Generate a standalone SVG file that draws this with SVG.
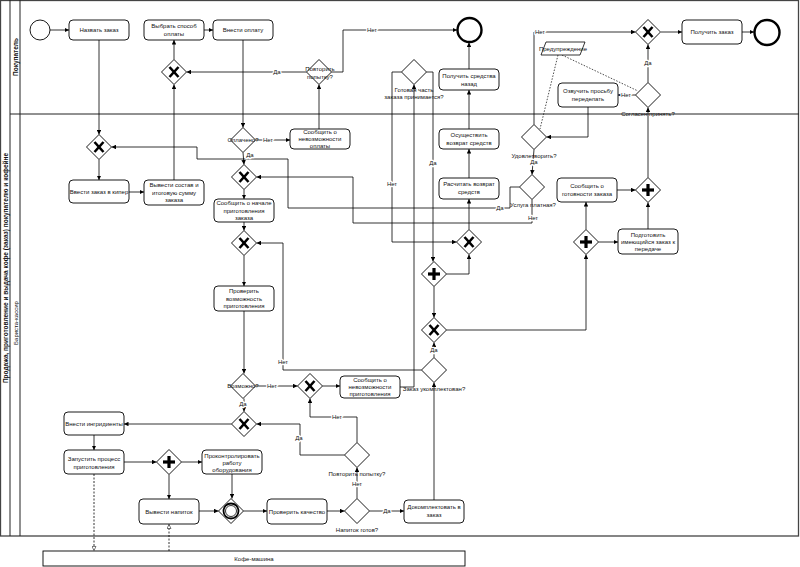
<svg xmlns="http://www.w3.org/2000/svg" width="800" height="567" viewBox="0 0 800 567">
<style>
.t{fill:#fff;stroke:#000;stroke-width:0.9}
.g{fill:#fff;stroke:#000;stroke-width:0.9}
.x{stroke:#000;stroke-width:2.6;fill:none}
.p{stroke:#000;stroke-width:3.2;fill:none}
.tx{font-family:"Liberation Sans",Arial,sans-serif;font-size:6px;fill:#111;text-anchor:middle}
.el{font-family:"Liberation Sans",Arial,sans-serif;font-size:6px;fill:#111;text-anchor:middle;stroke:#fff;stroke-width:2.5px;paint-order:stroke;stroke-linejoin:round}
.e{fill:none;stroke:#000;stroke-width:0.8;marker-end:url(#a)}
.m{fill:none;stroke:#000;stroke-width:0.8;stroke-dasharray:2,1.5;marker-end:url(#o)}
.d{fill:none;stroke:#000;stroke-width:0.7;stroke-dasharray:1.5,1.5}
.ln{stroke:#222;stroke-width:1;fill:none}
</style>
<defs>
<marker id="a" viewBox="0 0 10 10" refX="10" refY="5" markerUnits="userSpaceOnUse" markerWidth="4.5" markerHeight="4.5" orient="auto"><path d="M0,0 L10,5 L0,10 z" fill="#000"/></marker>
<marker id="o" viewBox="0 0 10 10" refX="10" refY="5" markerUnits="userSpaceOnUse" markerWidth="5" markerHeight="5" orient="auto"><path d="M1,1 L9,5 L1,9 z" fill="#fff" stroke="#000" stroke-width="1"/></marker>
<g id="xg"><line class="x" x1="-4.5" y1="-5" x2="4.5" y2="5"/><line class="x" x1="4.5" y1="-5" x2="-4.5" y2="5"/></g>
<g id="pg"><line class="p" x1="0" y1="-6" x2="0" y2="6"/><line class="p" x1="-6" y1="0" x2="6" y2="0"/></g>
<polygon id="dm" points="0,-12.5 12.5,0 0,12.5 -12.5,0"/>
</defs>
<rect width="800" height="567" fill="#fff"/>
<g id="pool">
<rect x="0.5" y="0.5" width="798" height="535.5" fill="none" stroke="#444" stroke-width="1.3"/>
<line class="ln" x1="10" y1="0" x2="10" y2="536"/>
<line class="ln" x1="20" y1="0" x2="20" y2="536"/>
<line class="ln" x1="10" y1="114" x2="799" y2="114"/>
<text class="tx" transform="translate(7.5,268) rotate(-90)" style="font-weight:bold;font-size:6.5px">Продажа, приготовление и выдача кофе (заказ) покупателю и кофейне</text>
<text class="tx" transform="translate(17.5,57) rotate(-90)" style="font-weight:bold;font-size:6.5px">Покупатель</text>
<text class="tx" transform="translate(17.5,323) rotate(-90)">Бариста-кассир</text>
</g>
<g id="connectors">
<path class="e" d="M50,30 L69,30"/>
<path class="e" d="M99,40 L99,134.5"/>
<path class="e" d="M99,159.5 L99,180"/>
<path class="e" d="M129,192 L144,192"/>
<path class="e" d="M174,181 L174,84.5"/>
<path class="e" d="M174,59.5 L174,40"/>
<path class="e" d="M204,30 L213,30"/>
<path class="e" d="M243,40 L243,127.5"/>
<path class="e" d="M255.5,140 L290,140"/>
<path class="e" d="M319,129 L319,84.5"/>
<path class="e" d="M306.5,72 L186.5,72"/>
<path class="e" d="M331.5,72 L343,72 L343,30 L457,30"/>
<path class="e" d="M243,152.5 L244,164.5"/>
<path class="e" d="M244,189.5 L244,199"/>
<path class="e" d="M244,222 L244,230.5"/>
<path class="e" d="M244,255.5 L244,286"/>
<path class="e" d="M244,311 L244,373.5"/>
<path class="e" d="M255.5,386 L297.5,386"/>
<path class="e" d="M322.5,386 L340,386"/>
<path class="e" d="M400,387 L414,387 L414,84.5"/>
<path class="e" d="M401.5,72 L392,72 L392,242 L456.5,242"/>
<path class="e" d="M426.5,72 L433,72 L433,261.5"/>
<path class="e" d="M446.5,274 L469,274 L469,254.5"/>
<path class="e" d="M469,229.5 L469,199"/>
<path class="e" d="M469,178 L469,149"/>
<path class="e" d="M469,129 L469,90"/>
<path class="e" d="M469,69 L469,42.5"/>
<path class="e" d="M434,286.5 L434,317.5"/>
<path class="e" d="M446.5,330 L586,330 L586,254.5"/>
<path class="e" d="M586,229.5 L586,202"/>
<path class="e" d="M598.5,242 L618,242"/>
<path class="e" d="M617,190 L635.5,190"/>
<path class="e" d="M648,229 L648,202.5"/>
<path class="e" d="M648,177.5 L648,107.5"/>
<path class="e" d="M648,82.5 L648,44.5"/>
<path class="e" d="M635.5,95 L618,95"/>
<path class="e" d="M588,107 L588,137 L546.5,137"/>
<path class="e" d="M534,124.5 L534,32 L635.5,32"/>
<path class="e" d="M661,32 L682,32"/>
<path class="e" d="M742,32 L754,32"/>
<path class="e" d="M534,149.5 L532,174.5"/>
<path class="e" d="M519.5,187 L510,187 L510,208 L288,208 L288,159 L197,159 L197,147 L111.5,147"/>
<path class="e" d="M532,199.5 L532,223 L353,223 L353,177 L256.5,177"/>
<path class="e" d="M244,398.5 L244,411.5"/>
<path class="e" d="M231.5,424 L124,424"/>
<path class="e" d="M94,435 L94,450"/>
<path class="e" d="M124,462 L156.5,462"/>
<path class="e" d="M169,474.5 L169,499"/>
<path class="e" d="M181.5,462 L202,462"/>
<path class="e" d="M232,474 L232,498.5"/>
<path class="e" d="M199,511 L218.5,511"/>
<path class="e" d="M243.5,511 L267,511"/>
<path class="e" d="M327,511 L344.5,511"/>
<path class="e" d="M357,498.5 L357,467.5"/>
<path class="e" d="M369.5,511 L404,511"/>
<path class="e" d="M434,500 L434,382.5"/>
<path class="e" d="M434,357.5 L434,342.5"/>
<path class="e" d="M421.5,370 L283,370 L283,243 L256.5,243"/>
<path class="e" d="M344.5,455 L300,455 L300,424 L256.5,424"/>
<path class="e" d="M357,442.5 L357,417 L310,417 L310,398.5"/>
<path class="m" d="M94,474 L94,551"/>
<path class="m" d="M169,551 L169,524"/>
<path class="d" d="M562,55 L638,91"/>
<path class="d" d="M558,55 L540,129"/>
<text class="el" x="268" y="142">Нет</text>
<text class="el" x="277" y="74">Да</text>
<text class="el" x="372" y="32">Нет</text>
<text class="el" x="250" y="157">Да</text>
<text class="el" x="272" y="388">Нет</text>
<text class="el" x="392" y="186">Нет</text>
<text class="el" x="433" y="165">Да</text>
<text class="el" x="648" y="65">Да</text>
<text class="el" x="626" y="97">Нет</text>
<text class="el" x="540" y="34">Нет</text>
<text class="el" x="534" y="164">Да</text>
<text class="el" x="500" y="210">Да</text>
<text class="el" x="533" y="220">Нет</text>
<text class="el" x="243" y="406">Да</text>
<text class="el" x="357" y="486">Нет</text>
<text class="el" x="387" y="513">Да</text>
<text class="el" x="434" y="352">Да</text>
<text class="el" x="283" y="364">Нет</text>
<text class="el" x="299" y="440">Да</text>
<text class="el" x="337" y="419">Нет</text>
</g>
<g id="start"><circle cx="40" cy="30" r="10" fill="#fff" stroke="#000" stroke-width="0.9"/></g>
<g id="t_nazvat"><rect class="t" x="69" y="20" width="60" height="20" rx="4"/><text class="tx" x="99" y="32">Назвать заказ</text></g>
<g id="t_vybrat"><rect class="t" x="144" y="20" width="60" height="20" rx="4"/><text class="tx" x="174" y="28">Выбрать способ</text><text class="tx" x="174" y="36">оплаты</text></g>
<g id="t_vnesti_oplatu"><rect class="t" x="213" y="20" width="60" height="20" rx="4"/><text class="tx" x="243" y="32">Внести оплату</text></g>
<g id="g1"><use href="#dm" class="g" x="174" y="72"/><use href="#xg" x="174" y="72"/></g>
<g id="g_povt1"><use href="#dm" class="g" x="319" y="72"/><text class="tx" x="320" y="71">Повторить</text><text class="tx" x="320" y="78.5">попытку?</text></g>
<g id="end1"><circle cx="469.5" cy="30" r="12" fill="#fff" stroke="#000" stroke-width="2.4"/></g>
<g id="g_gotovaya"><use href="#dm" class="g" x="414" y="72"/><text class="tx" x="414" y="92">Готовая часть</text><text class="tx" x="414" y="99">заказа принимается?</text></g>
<g id="t_poluchit_sredstva"><rect class="t" x="439" y="69" width="60" height="21" rx="4"/><text class="tx" x="469" y="78">Получить средства</text><text class="tx" x="469" y="86">назад</text></g>
<g id="d_preduprezhdenie"><polygon points="546,42 585,42 580,55 541,55" fill="#fff" stroke="#000" stroke-width="0.8"/><text class="tx" x="563" y="50.5">Предупреждение</text></g>
<g id="g4"><use href="#dm" class="g" x="648" y="32"/><use href="#xg" x="648" y="32"/></g>
<g id="t_poluchit_zakaz"><rect class="t" x="682" y="20" width="60" height="24" rx="4"/><text class="tx" x="712" y="34">Получить заказ</text></g>
<g id="end2"><circle cx="767" cy="32.5" r="12.5" fill="#fff" stroke="#000" stroke-width="2.4"/></g>
<g id="g_soglasen"><use href="#dm" class="g" x="648" y="95"/><text class="tx" x="648" y="116">Согласен принять?</text></g>
<g id="t_ozvuchit"><rect class="t" x="558" y="83" width="60" height="24" rx="4"/><text class="tx" x="588" y="93">Озвучить просьбу</text><text class="tx" x="588" y="101">переделать</text></g>
<g id="g_udovl"><use href="#dm" class="g" x="534" y="137"/><text class="tx" x="534" y="157.5">Удовлетворить?</text></g>
<g id="g_platnaya"><use href="#dm" class="g" x="532" y="187"/><text class="tx" x="533" y="207">Услуга платная?</text></g>
<g id="t_gotovnost"><rect class="t" x="557" y="178" width="60" height="24" rx="4"/><text class="tx" x="587" y="188">Сообщить о</text><text class="tx" x="587" y="196">готовности заказа</text></g>
<g id="p3"><use href="#dm" class="g" x="648" y="190"/><use href="#pg" x="648" y="190"/></g>
<g id="t_podgotovit"><rect class="t" x="618" y="229" width="60" height="25" rx="4"/><text class="tx" x="648" y="237">Подготовить</text><text class="tx" x="648" y="244">имеющийся заказ к</text><text class="tx" x="648" y="251">передаче</text></g>
<g id="p2"><use href="#dm" class="g" x="586" y="242"/><use href="#pg" x="586" y="242"/></g>
<g id="t_vvesti_kiper"><rect class="t" x="69" y="180" width="60" height="23" rx="4"/><text class="tx" x="99" y="194">Ввести заказ в кипер</text></g>
<g id="t_vyvesti_sostav"><rect class="t" x="144" y="180" width="60" height="25" rx="4"/><text class="tx" x="174" y="187">Вывести состав и</text><text class="tx" x="174" y="194.5">итоговую сумму</text><text class="tx" x="174" y="202">заказа</text></g>
<g id="g8"><use href="#dm" class="g" x="99" y="147"/><use href="#xg" x="99" y="147"/></g>
<g id="g_oplacheno"><use href="#dm" class="g" x="243" y="140"/><text class="tx" x="243" y="142">Оплачено?</text></g>
<g id="t_nevozm_oplaty"><rect class="t" x="290" y="129" width="60" height="20" rx="4"/><text class="tx" x="320" y="134">Сообщить о</text><text class="tx" x="320" y="141">невозможности</text><text class="tx" x="320" y="148">оплаты</text></g>
<g id="g10"><use href="#dm" class="g" x="244" y="177"/><use href="#xg" x="244" y="177"/></g>
<g id="t_nachalo"><rect class="t" x="214" y="199" width="60" height="23" rx="4"/><text class="tx" x="244" y="205">Сообщить о начале</text><text class="tx" x="244" y="212.5">приготовления</text><text class="tx" x="244" y="220">заказа</text></g>
<g id="g11"><use href="#dm" class="g" x="244" y="243"/><use href="#xg" x="244" y="243"/></g>
<g id="t_proverit_vozm"><rect class="t" x="214" y="286" width="60" height="25" rx="4"/><text class="tx" x="244" y="293">Проверить</text><text class="tx" x="244" y="300.5">возможность</text><text class="tx" x="244" y="308">приготовления</text></g>
<g id="g_vozmozhno"><use href="#dm" class="g" x="243" y="386"/><text class="tx" x="243" y="388">Возможно?</text></g>
<g id="g13"><use href="#dm" class="g" x="310" y="386"/><use href="#xg" x="310" y="386"/></g>
<g id="t_nevozm_prig"><rect class="t" x="340" y="376" width="60" height="22" rx="4"/><text class="tx" x="370" y="382">Сообщить о</text><text class="tx" x="370" y="389">невозможности</text><text class="tx" x="370" y="396">приготовления</text></g>
<g id="g14"><use href="#dm" class="g" x="434" y="330"/><use href="#xg" x="434" y="330"/></g>
<g id="p1"><use href="#dm" class="g" x="434" y="274"/><use href="#pg" x="434" y="274"/></g>
<g id="g18"><use href="#dm" class="g" x="469" y="242"/><use href="#xg" x="469" y="242"/></g>
<g id="t_raschitat"><rect class="t" x="439" y="178" width="60" height="21" rx="4"/><text class="tx" x="469" y="186">Расчитать возврат</text><text class="tx" x="469" y="194">средств</text></g>
<g id="t_osushchestvit"><rect class="t" x="439" y="129" width="60" height="20" rx="4"/><text class="tx" x="469" y="137">Осуществить</text><text class="tx" x="469" y="145">возврат средств</text></g>
<g id="g_ukomplekt"><use href="#dm" class="g" x="434" y="370"/><text class="tx" x="434" y="391">Заказ укомплектован?</text></g>
<g id="t_dokomplekt"><rect class="t" x="404" y="500" width="60" height="23" rx="4"/><text class="tx" x="434" y="509">Докомплектовать в</text><text class="tx" x="434" y="517">заказ</text></g>
<g id="g15"><use href="#dm" class="g" x="244" y="424"/><use href="#xg" x="244" y="424"/></g>
<g id="g_povt2"><use href="#dm" class="g" x="357" y="455"/><text class="tx" x="357" y="476">Повторить попытку?</text></g>
<g id="t_ingr"><rect class="t" x="64" y="412" width="60" height="23" rx="4"/><text class="tx" x="94" y="425.5">Внести ингридиенты</text></g>
<g id="t_zapustit"><rect class="t" x="64" y="450" width="60" height="24" rx="4"/><text class="tx" x="94" y="461">Запустить процесс</text><text class="tx" x="94" y="469">приготовления</text></g>
<g id="p4"><use href="#dm" class="g" x="169" y="462"/><use href="#pg" x="169" y="462"/></g>
<g id="t_vyvesti_napitok"><rect class="t" x="139" y="499" width="60" height="25" rx="4"/><text class="tx" x="169" y="513.5">Вывести напиток</text></g>
<g id="t_kontrol"><rect class="t" x="202" y="450" width="60" height="24" rx="4"/><text class="tx" x="232" y="457.5">Проконтролировать</text><text class="tx" x="232" y="464.5">работу</text><text class="tx" x="232" y="471.5">оборудования</text></g>
<g id="g_event"><use href="#dm" class="g" x="231" y="511"/><circle cx="231" cy="511" r="7.5" fill="#fff" stroke="#000" stroke-width="1.8"/><circle cx="231" cy="511" r="5.5" fill="none" stroke="#000" stroke-width="0.8"/></g>
<g id="t_kachestvo"><rect class="t" x="267" y="499" width="60" height="25" rx="4"/><text class="tx" x="297" y="513.5">Проверить качество</text></g>
<g id="g_gotov"><use href="#dm" class="g" x="357" y="511"/><text class="tx" x="357" y="532">Напиток готов?</text></g>
<g id="kofemashina"><rect x="43" y="551" width="422" height="15" fill="#fff" stroke="#000" stroke-width="0.9"/><text class="tx" x="254" y="561">Кофе-машина</text></g>
</svg>
